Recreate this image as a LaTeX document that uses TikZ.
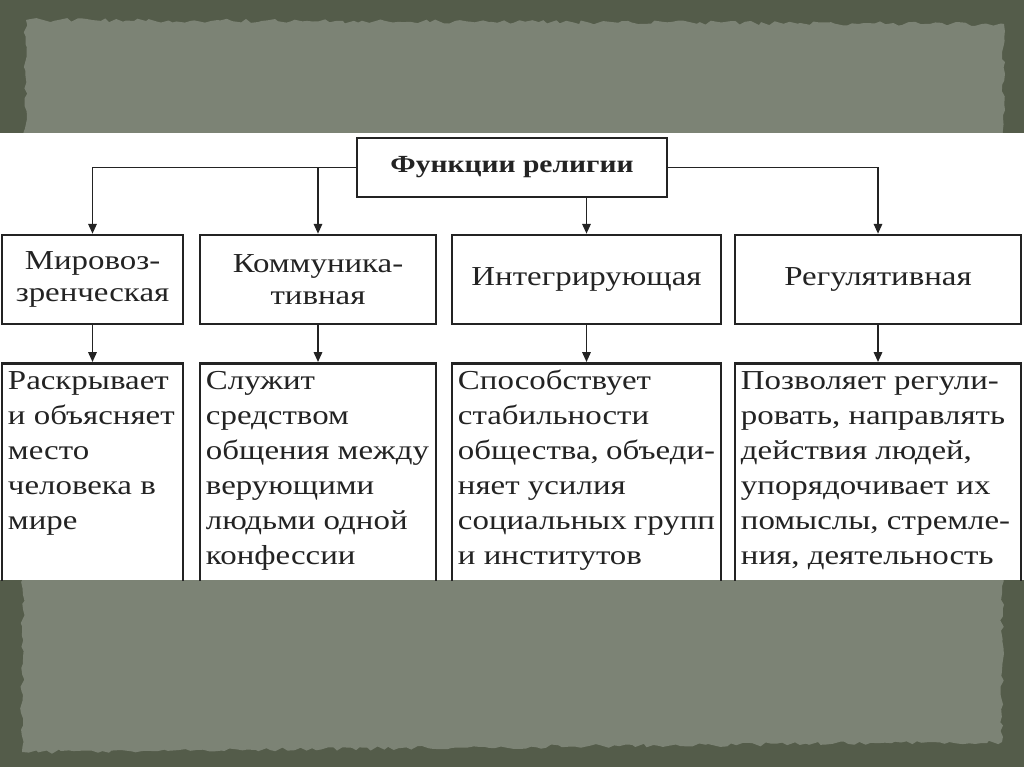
\documentclass[tikz,border=0pt]{standalone}
\usepackage{fontspec}
\setmainfont{Liberation Serif}[FakeStretch=1.2]
\usetikzlibrary{arrows.meta,decorations.pathmorphing}
\definecolor{boardgreen}{RGB}{84,92,74}
\definecolor{papergrey}{RGB}{124,131,117}
\definecolor{ink}{RGB}{35,35,35}
\newcommand{\funcdesc}[2]{\parbox[c][5.8cm][t]{#1}{\raggedright\strut #2}}

\begin{document}
\begin{tikzpicture}[
x=0.025cm, y=-0.025cm,
every node/.style={draw=ink, line width=1.8pt, rectangle, align=center, text=ink},
headbox/.style={minimum width=7.75cm, minimum height=1.475cm, font=\bfseries\fontsize{17.5}{22}\selectfont},
funcbox/.style={minimum height=2.225cm, inner sep=0pt, font=\fontsize{19.5}{22.8}\selectfont},
descbox/.style={anchor=north, inner xsep=0.15cm, inner ysep=1pt, font=\fontsize{19.5}{24.9}\selectfont},
link/.style={draw=ink, line width=1.2pt, -{Triangle[length=7pt,width=6pt]}}
]
\useasboundingbox (0,0) rectangle (1024,767);
\fill[boardgreen] (0,0) rectangle (1024,767);
\pgfmathsetseed{12}
\fill[papergrey, decorate, decoration={random steps, segment length=4pt, amplitude=1.5pt}]
  (26,20) -- (1004,24) -- (1002,742) -- (22,752) -- cycle;
\fill[white] (0,133) rectangle (1024,580);

\begin{scope}
\clip (0,133) rectangle (1024,580);
\node[headbox] (head) at (512,167.5) {Функции религии};

\node[funcbox, minimum width=4.525cm] (f1) at (92.5,279.5) {Мировоз-\\зренческая};
\node[funcbox, minimum width=5.9cm] (f2) at (318,279.5) {Коммуника-\\тивная};
\node[funcbox, minimum width=6.725cm] (f3) at (586.5,279.5) {Интегрирующая};
\node[funcbox, minimum width=7.15cm] (f4) at (878,279.5) {Регулятивная};

\node[descbox] (d1) at (92.5,362) {\funcdesc{4.225cm}{Раскрывает\\и~объясняет\\место\\человека~в\\мире}};
\node[descbox] (d2) at (318,362) {\funcdesc{5.6cm}{Служит\\средством\\общения~между\\верующими\\людьми~одной\\конфессии}};
\node[descbox] (d3) at (586.5,362) {\funcdesc{6.425cm}{Способствует\\стабильности\\общества,~объеди-\\няет~усилия\\социальных~групп\\и~институтов}};
\node[descbox] (d4) at (878,362) {\funcdesc{6.85cm}{Позволяет~регули-\\ровать,~направлять\\действия~людей,\\упорядочивает~их\\помыслы,~стремле-\\ния,~деятельность}};

\draw[link] (head.west) -| (f1.north);
\draw[link] (head.west) -| (f2.north);
\draw[link] (f3.north |- head.south) -- (f3.north);
\draw[link] (head.east) -| (f4.north);
\foreach \i in {1,...,4}
  \draw[link] (f\i.south) -- (d\i.north);
\end{scope}
\end{tikzpicture}
\end{document}
